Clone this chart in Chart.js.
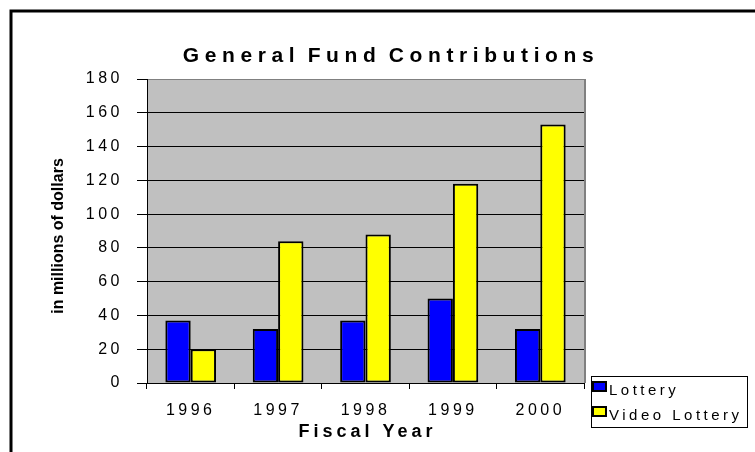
<!DOCTYPE html>
<html>
<head>
<meta charset="utf-8">
<script src="https://cdn.jsdelivr.net/npm/chart.js@4"></script>
<style>
  body { margin: 0; background: #fff; }
  #wrap { width: 755px; height: 452px; position: relative; }
</style>
</head>
<body>
<div id="wrap"><canvas id="myChart"></canvas></div>
<script>
// data
const years = ['1996', '1997', '1998', '1999', '2000'];
const lottery = [37, 32, 37, 50, 32];
const videoLottery = [20, 84, 88, 118, 153];
const yTicks = [0, 20, 40, 60, 80, 100, 120, 140, 160, 180];

const FONT = '"Liberation Sans", Arial, sans-serif';

// draws the gray plot area, frame, titles and legend
const decor = {
  id: 'decor',
  beforeDraw(chart) {
    const ctx = chart.ctx, a = chart.chartArea;
    ctx.save();
    ctx.fillStyle = '#c0c0c0';
    ctx.fillRect(a.left, a.top, a.right - a.left, a.bottom - a.top);
    ctx.restore();
    ctx.letterSpacing = '3.5px';
  },
  afterDraw(chart) {
    const ctx = chart.ctx, a = chart.chartArea;
    ctx.save();
    // right edge of the plot
    ctx.strokeStyle = '#808080';
    ctx.lineWidth = 2;
    ctx.beginPath();
    ctx.moveTo(a.right + 1, a.top);
    ctx.lineTo(a.right + 1, a.bottom);
    ctx.stroke();

    // outer frame
    ctx.strokeStyle = '#000';
    ctx.lineWidth = 3;
    ctx.strokeRect(11, 11, 760, 460);

    ctx.fillStyle = '#000';
    // title
    ctx.font = 'bold 21px ' + FONT;
    ctx.letterSpacing = '5.6px';
    ctx.wordSpacing = '-4px';
    ctx.textAlign = 'center';
    ctx.textBaseline = 'alphabetic';
    ctx.fillText('General Fund Contributions', 391, 62);
    ctx.wordSpacing = '0px';

    // x title
    ctx.font = 'bold 18px ' + FONT;
    ctx.letterSpacing = '4px';
    ctx.fillText('Fiscal Year', (a.left + a.right) / 2 + 2, 437);

    // y title
    ctx.letterSpacing = '0px';
    ctx.font = 'bold 16px ' + FONT;
    ctx.translate(63, (a.top + a.bottom) / 2 + 5);
    ctx.rotate(-Math.PI / 2);
    ctx.fillText('in millions of dollars', 0, 0);
    ctx.restore();

    // legend
    ctx.save();
    ctx.strokeStyle = '#000';
    ctx.lineWidth = 1;
    ctx.strokeRect(591.5, 376.5, 156, 51);
    ctx.font = '15px ' + FONT;
    ctx.letterSpacing = '3.5px';
    ctx.textAlign = 'left';
    ctx.textBaseline = 'alphabetic';
    chart.data.datasets.forEach((ds, i) => {
      const y = 382 + i * 25;
      ctx.fillStyle = ds.backgroundColor;
      ctx.fillRect(593, y, 13, 9);
      ctx.lineWidth = 2;
      ctx.strokeRect(593, y, 13, 9);
      ctx.fillStyle = '#000';
      ctx.fillText(ds.label, 609, y + 13);
    });
    ctx.restore();
  }
};

const ctx = document.getElementById('myChart');
new Chart(ctx, {
  type: 'bar',
  data: {
    labels: years,
    datasets: [
      {
        label: 'Lottery',
        data: lottery,
        backgroundColor: '#0000ff',
        borderColor: '#000',
        borderWidth: 2,
        borderSkipped: false,
      },
      {
        label: 'Video Lottery',
        data: videoLottery,
        backgroundColor: '#ffff00',
        borderColor: '#000',
        borderWidth: 2,
        borderSkipped: false,
      }
    ]
  },
  options: {
    responsive: true,
    maintainAspectRatio: false,
    animation: false,
    devicePixelRatio: 1,
    layout: {
      padding: { left: 10, right: 171, top: 79, bottom: 29 }
    },
    datasets: {
      bar: { barPercentage: 1, categoryPercentage: 0.58 }
    },
    plugins: {
      legend: { display: false },
      tooltip: { enabled: false }
    },
    scales: {
      x: {
        afterFit(axis) { axis.height = 40; },
        grid: {
          drawOnChartArea: false,
          drawTicks: true,
          tickLength: 6,
          color: '#000',
          tickColor: '#000'
        },
        border: { display: true, color: '#000', width: 1 },
        ticks: {
          color: '#000',
          padding: 12,
          font: { family: FONT, size: 16 }
        }
      },
      y: {
        min: 0,
        max: 180,
        afterFit(axis) { axis.width = 137; },
        afterBuildTicks(axis) { axis.ticks = yTicks.map(v => ({ value: v })); },
        grid: {
          color: c => (c.tick && c.tick.value === 180 ? '#808080' : '#000'),
          tickColor: '#000',
          tickLength: 10,
          lineWidth: 1
        },
        border: { display: true, color: '#000', width: 1 },
        ticks: {
          color: '#000',
          padding: 14,
          font: { family: FONT, size: 16 }
        }
      }
    }
  },
  plugins: [decor]
});
</script>
</body>
</html>
